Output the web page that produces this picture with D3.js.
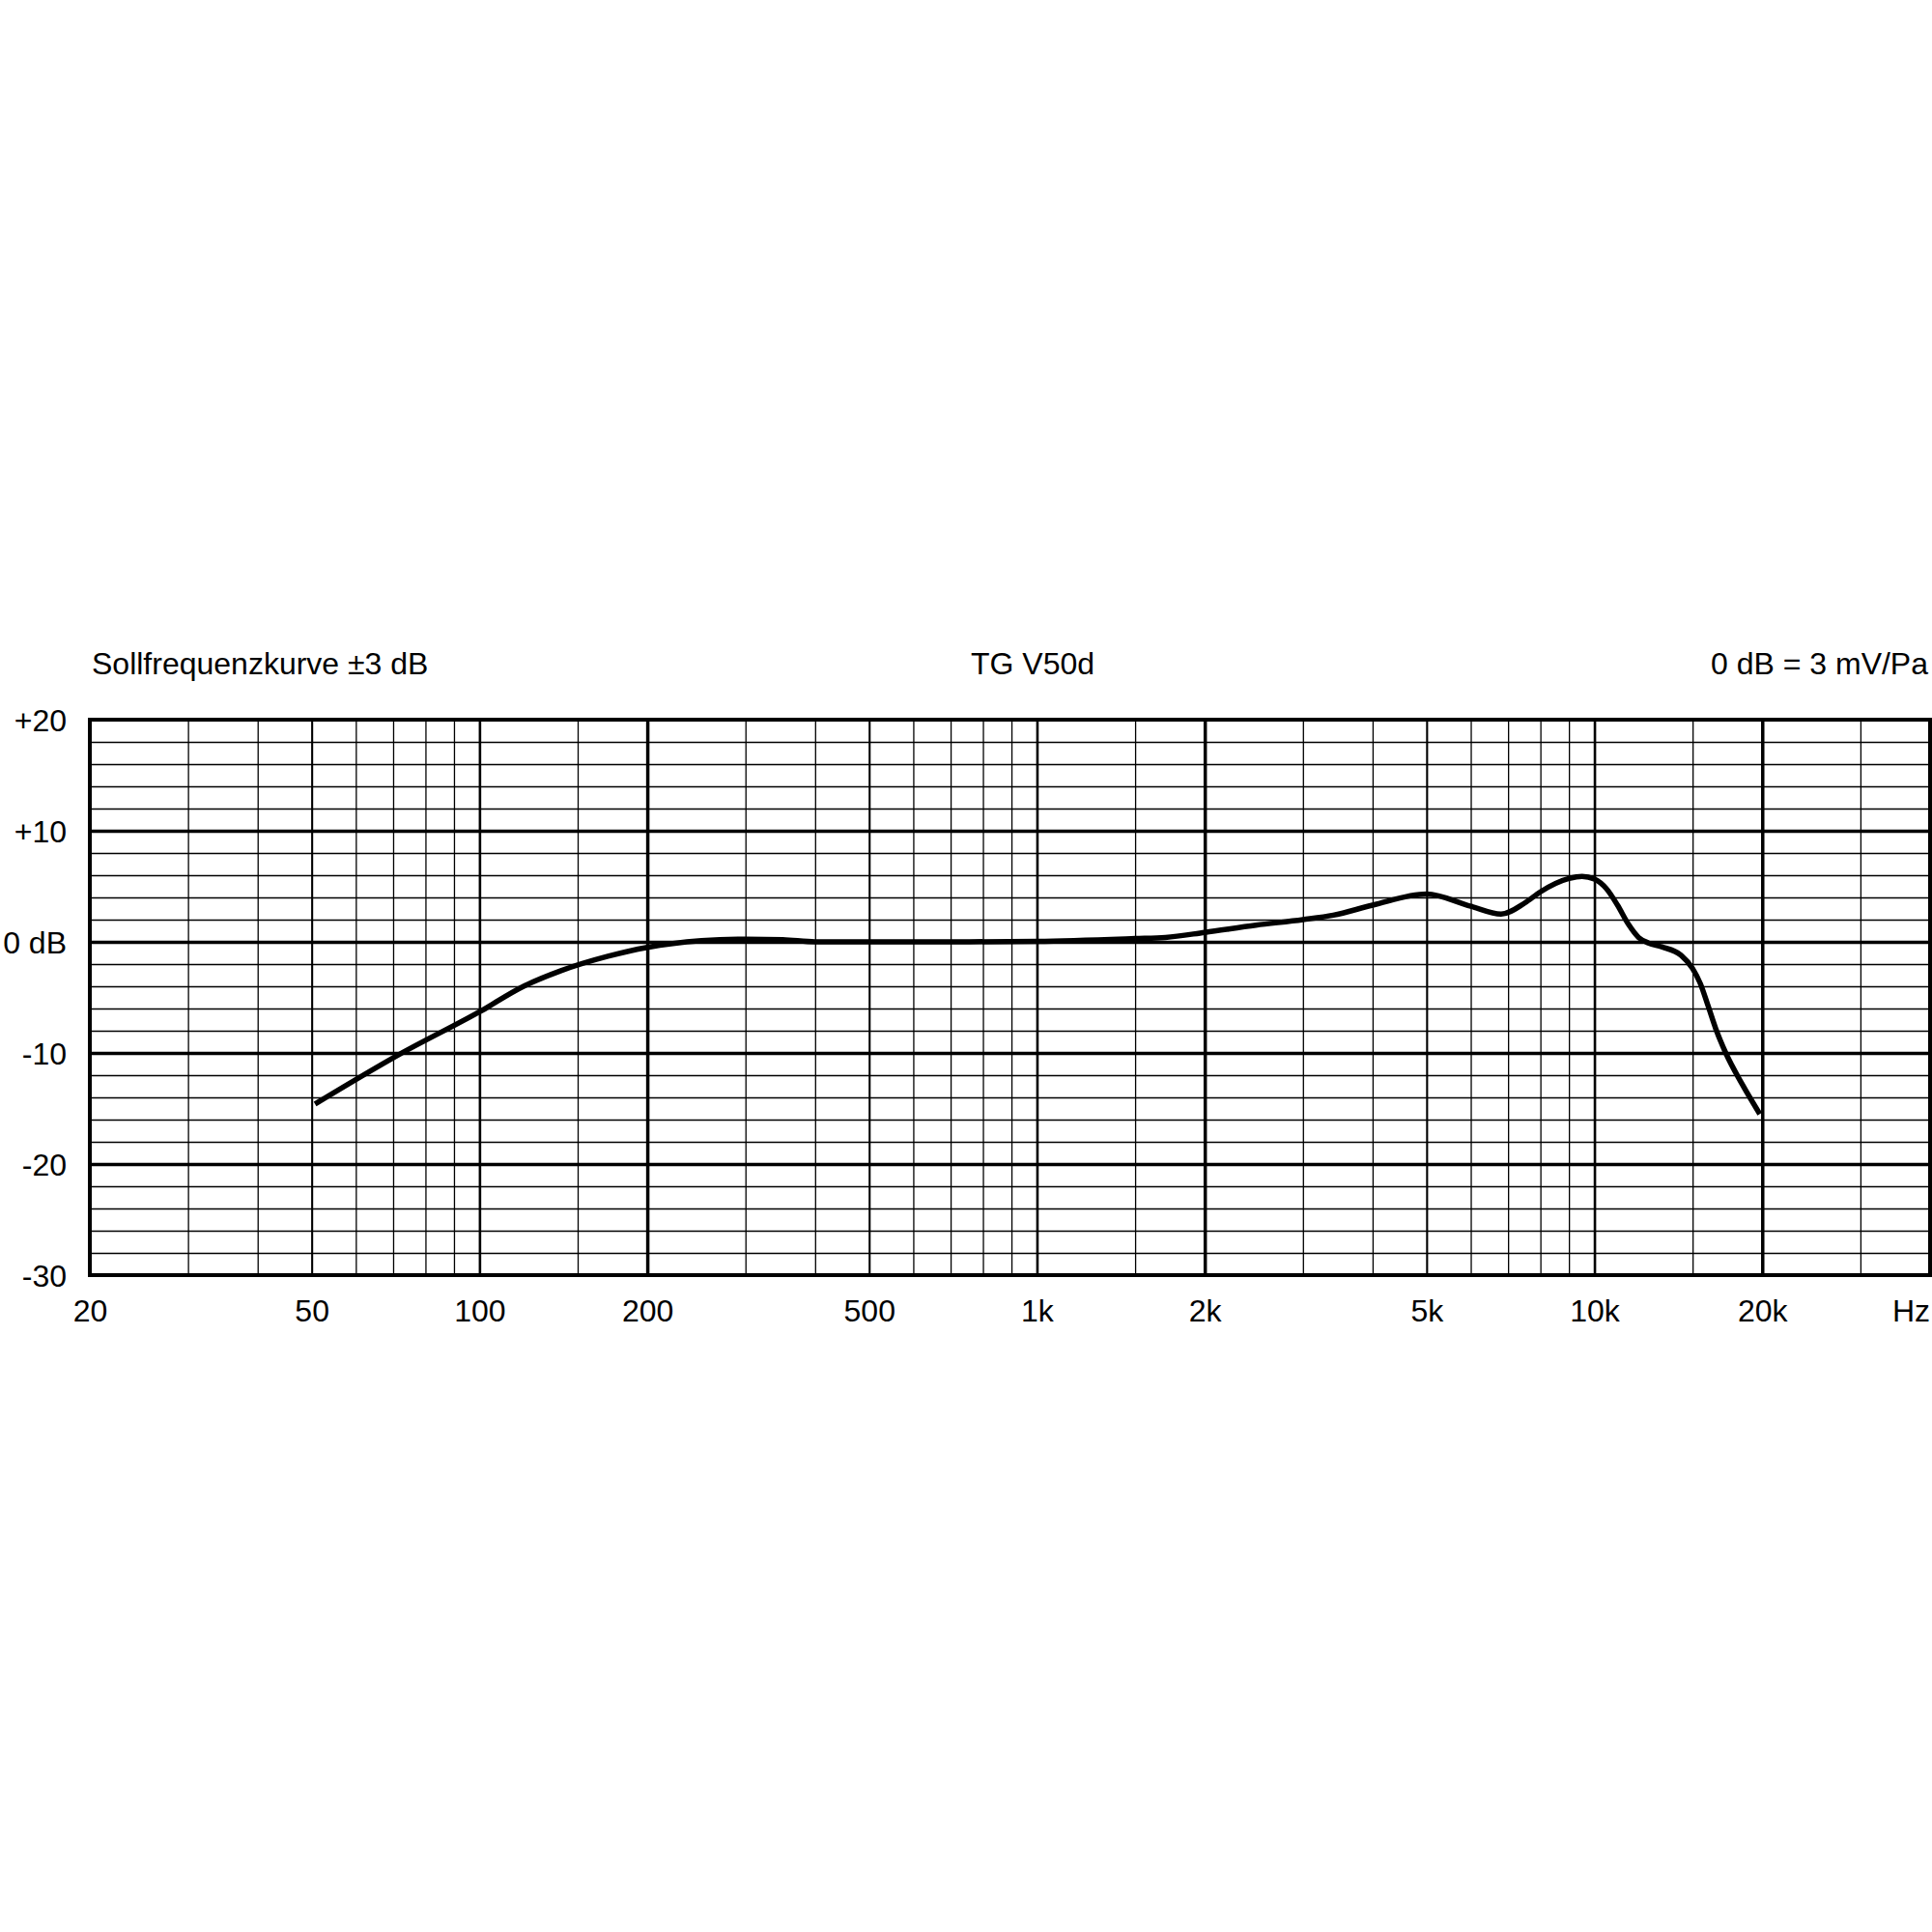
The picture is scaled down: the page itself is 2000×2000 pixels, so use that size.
<!DOCTYPE html>
<html>
<head>
<meta charset="utf-8">
<script src="https://cdn.jsdelivr.net/npm/d3@7"></script>
<style>
  body { margin: 0; background: #fff; }
  text { font-family: "Liberation Sans", Arial, sans-serif; font-size: 32px; fill: #000; }
</style>
</head>
<body>
<div id="chart"></div>
<script>
var freqHz = [50.7, 72, 100, 120, 140, 170, 200, 250, 300, 350, 400, 500, 700, 1000,
              1500, 1700, 2000, 2470, 3000, 3400, 4000, 5000, 6000, 6800, 7500, 8000, 9000, 9500,
              10000, 10500, 11000, 11500, 12000, 12500, 13200, 14300, 15000, 15500, 16000, 16500,
              17200, 18400, 19800];
var levelDb = [-14.6, -10.1, -6.3, -4.0, -2.6, -1.3, -0.5, 0.1, 0.25, 0.2, 0, 0, 0, 0.05,
               0.3, 0.4, 0.85, 1.5, 2.0, 2.4, 3.3, 4.3, 3.2, 2.5, 3.5, 4.5, 5.7, 5.9,
               5.65, 4.8, 3.3, 1.6, 0.4, -0.1, -0.45, -1.2, -2.4, -3.8, -5.8, -7.8,
               -10, -12.8, -15.5];

// axis labels
var freqTicks = [20, 50, 100, 200, 500, 1000, 2000, 5000, 10000, 20000];
var freqTickText = ["20", "50", "100", "200", "500", "1k", "2k", "5k", "10k", "20k"];
var dbTicks = [20, 10, 0, -10, -20, -30];
var dbTickText = ["+20", "+10", "0 dB", "-10", "-20", "-30"];

// paper grid: 2..9 and 1.5 of every decade, 2 dB steps
var gridMult = [1.5, 2, 3, 4, 5, 6, 7, 8, 9, 10];
var gridDecades = [10, 100, 1000, 10000];
var titleLeft = "Sollfrequenzkurve \u00b13 dB";
var titleMid = "TG V50d";
var titleRight = "0 dB = 3 mV/Pa";

var svgWidth = 2000, svgHeight = 2000;
var margin = { left: 93, top: 745 };
var chartWidth = 1905, chartHeight = 575;

var svg = d3.select("#chart").append("svg")
    .attr("width", svgWidth)
    .attr("height", svgHeight)
    .style("background", "#fff");

var chartGroup = svg.append("g")
    .attr("transform", `translate(${margin.left}, ${margin.top})`);

var x = d3.scaleLog().domain([20, 40000]).range([0, chartWidth]);
var y = d3.scaleLinear().domain([-30, 20]).range([chartHeight, 0]);

// build grid positions
var gridFreqs = [];
gridDecades.forEach(function(dec) {
    gridMult.forEach(function(m) {
        var f = Math.round(dec * m);
        if (f > 20 && f < 40000 && gridFreqs.indexOf(f) < 0) gridFreqs.push(f);
    });
});
var gridDb = d3.range(-28, 20, 2);

function freqWeight(f) {
    var lead = f / Math.pow(10, Math.floor(Math.log10(f) + 1e-9));
    lead = Math.round(lead * 10) / 10;
    if (lead === 2) return 3.5;
    if (lead === 1) return 2.6;
    if (lead === 5) return 2.1;
    return 1.3;
}

// vertical grid
var vGrid = chartGroup.append("g")
    .attr("transform", `translate(0, ${chartHeight})`)
    .call(d3.axisBottom(x).tickValues(gridFreqs).tickSize(chartHeight).tickSizeOuter(0).tickFormat(""));
vGrid.select(".domain").remove();
vGrid.selectAll(".tick line")
    .attr("y2", -chartHeight)
    .attr("stroke", "#000")
    .attr("stroke-width", d => freqWeight(d));

// horizontal grid
var hGrid = chartGroup.append("g")
    .call(d3.axisLeft(y).tickValues(gridDb).tickSize(-chartWidth).tickSizeOuter(0).tickFormat(""));
hGrid.select(".domain").remove();
hGrid.selectAll(".tick line")
    .attr("stroke", "#000")
    .attr("stroke-width", d => (d % 10 === 0 ? 3.5 : 1.5));

// frame
chartGroup.append("rect")
    .attr("x", 0).attr("y", 0)
    .attr("width", chartWidth).attr("height", chartHeight)
    .attr("fill", "none")
    .attr("stroke", "#000")
    .attr("stroke-width", 4);

// response curve
var curveData = freqHz.map((f, i) => ({ f: f, db: levelDb[i] }));
var line = d3.line()
    .x(d => x(d.f))
    .y(d => y(d.db))
    .curve(d3.curveMonotoneX);

chartGroup.append("path")
    .datum(curveData)
    .attr("d", line)
    .attr("fill", "none")
    .attr("stroke", "#000")
    .attr("stroke-width", 5.5)
    .attr("stroke-linejoin", "round");

// labels on the frequency axis
var xAxis = chartGroup.append("g")
    .attr("transform", `translate(0, ${chartHeight})`)
    .call(d3.axisBottom(x).tickValues(freqTicks).tickSize(0).tickPadding(0)
        .tickFormat((d, i) => freqTickText[i]));
xAxis.select(".domain").remove();
xAxis.selectAll("text")
    .attr("y", 48)
    .attr("dy", 0)
    .style("font-size", "32px")
    .style("font-family", "\"Liberation Sans\", Arial, sans-serif");

chartGroup.append("text")
    .attr("x", chartWidth)
    .attr("y", chartHeight + 48)
    .attr("text-anchor", "end")
    .text("Hz");

// labels on the level axis
var yAxis = chartGroup.append("g")
    .call(d3.axisLeft(y).tickValues(dbTicks).tickSize(0).tickPadding(24)
        .tickFormat((d, i) => dbTickText[i]));
yAxis.select(".domain").remove();
yAxis.selectAll("text")
    .attr("dy", "0.36em")
    .style("font-size", "32px")
    .style("font-family", "\"Liberation Sans\", Arial, sans-serif");

// header line
svg.append("text")
    .attr("x", 95)
    .attr("y", 698)
    .text(titleLeft);

svg.append("text")
    .attr("x", 1069)
    .attr("y", 698)
    .attr("text-anchor", "middle")
    .text(titleMid);

svg.append("text")
    .attr("x", 1996)
    .attr("y", 698)
    .attr("text-anchor", "end")
    .text(titleRight);
</script>
</body>
</html>
